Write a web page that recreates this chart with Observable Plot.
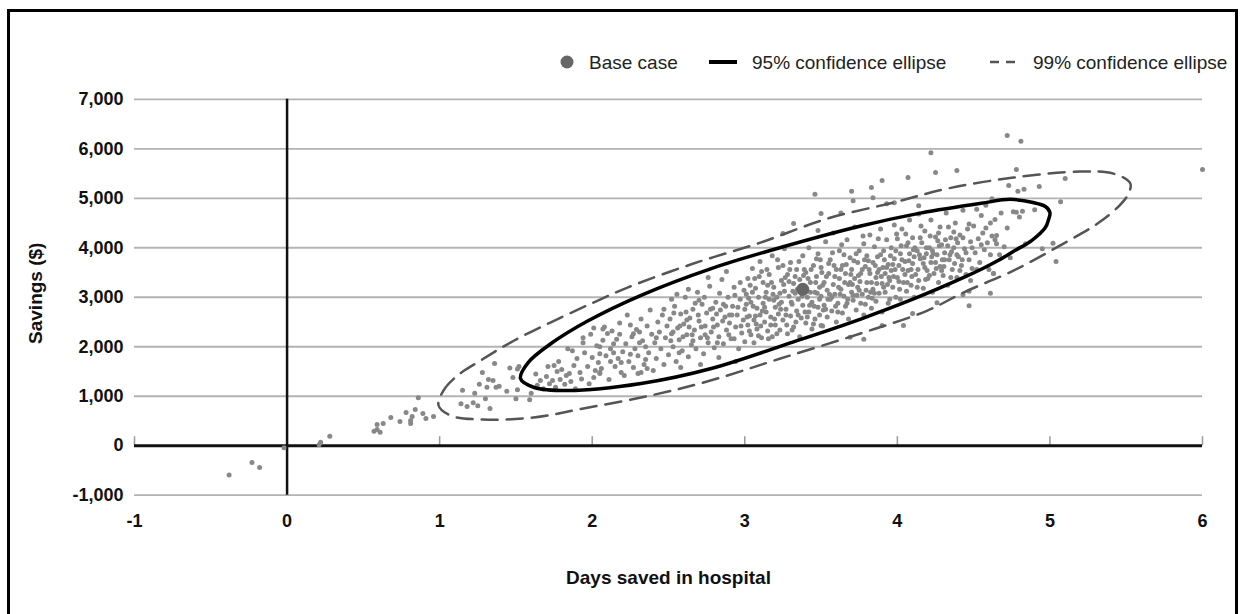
<!DOCTYPE html>
<html>
<head>
<meta charset="utf-8">
<script src="https://cdn.jsdelivr.net/npm/d3@7"></script>
<script src="https://cdn.jsdelivr.net/npm/@observablehq/plot@0.6"></script>
<style>
  body { margin: 0; background: #fff; font-family: "Liberation Sans", Arial, sans-serif; }
  #frame { position: absolute; left: 7px; top: 9px; width: 1231px; height: 640px; border: 3px solid #000; box-sizing: border-box; }
  #legend { position: absolute; left: 0; top: 0; width: 1245px; height: 80px; font-size: 19px; color: #222; }
  #legend .t { position: absolute; top: 62px; transform: translateY(-50%); white-space: nowrap; line-height: 1; }
  #legend svg { position: absolute; left: 0; top: 0; }
  #chart { position: absolute; left: 0; top: 80px; }
</style>
</head>
<body>
<div id="frame"></div>
<div id="legend">
  <svg width="1245" height="80">
    <circle cx="567" cy="62" r="6.5" fill="#666"></circle>
    <line x1="709" x2="737" y1="62" y2="62" stroke="#000" stroke-width="4"></line>
    <line x1="990" x2="1020" y1="62" y2="62" stroke="#555" stroke-width="2.5" stroke-dasharray="9,7"></line>
  </svg>
  <span class="t" style="left:589px">Base case</span>
  <span class="t" style="left:752px">95% confidence ellipse</span>
  <span class="t" style="left:1033px">99% confidence ellipse</span>
</div>
<div id="chart"></div>
<script>
// ---- axis ticks ----
const xTickValues = [-1, 0, 1, 2, 3, 4, 5, 6];
const yTickValues = [-1000, 0, 1000, 2000, 3000, 4000, 5000, 6000, 7000];
const xTitle = "Days saved in hospital";
const yTitle = "Savings ($)";

// ---- base case ----
const baseCase = [[3.38, 3160]];

// ---- simulated points (days saved, savings $) ----
const tailPoints = [
  [-0.38,-590],[-0.23,-340],[-0.18,-440],[-0.02,-40],[0.21,20],[0.22,70],[0.28,190],
  [0.57,290],[0.59,430],[0.59,330],[0.61,270],[0.63,450],[0.68,570],[0.74,490],[0.78,670],
  [0.81,510],[0.81,450],[0.82,590],[0.84,730],[0.86,970],[0.89,650],[0.91,550],[0.96,590]
];
const lowerPoints = [
  [1.14,850],[1.15,1120],[1.18,790],[1.22,870],[1.23,1060],[1.25,810],[1.26,1240],[1.28,1480],
  [1.30,950],[1.31,1180],[1.32,1340],[1.33,750],[1.35,1320],[1.36,1660],[1.37,1180],[1.39,1200],
  [1.44,1100],[1.46,1570],[1.48,1380],[1.50,950],[1.51,1130],[1.51,1550],[1.52,1600],[1.59,930],
  [1.60,1060],[1.63,1450],[1.66,1320],[1.71,1600],[1.74,1320],[1.75,1620],[1.77,1500],[1.79,1340],
  [1.85,1460],[1.87,1920],[1.94,2180],[1.94,2080],[2.00,1780],[2.02,1520],[2.05,1460],[2.05,1860],
  [2.08,2400],[2.10,2270],[2.14,1880],[2.19,1480],[2.25,2440],[2.27,2260],[2.31,2080],[2.35,1740],
  [2.32,1480],[2.19,1680],[2.14,2060],[2.01,2380],[2.07,2360],[2.30,1460],[2.05,1480],
  [1.64,1220],[1.68,1150],[1.70,1400],[1.72,1250],[1.76,1180],[1.78,1700],[1.80,1540],[1.82,1240],
  [1.83,1420],[1.84,1960],[1.86,1300],[1.88,1620],[1.89,1150],[1.90,1760],[1.92,1480],[1.93,1350],
  [1.95,1880],[1.97,1600],[1.98,1250],[1.99,2250]
];
const middlePoints = [
  [2.01,1380],[2.03,2020],[2.04,1680],[2.06,1560],[2.07,2130],[2.09,1820],[2.11,1340],[2.12,1960],
  [2.13,2320],[2.15,1600],[2.16,2150],[2.17,1760],[2.18,2480],[2.20,1900],[2.21,1420],[2.22,2060],
  [2.23,2640],[2.24,1700],[2.26,2200],[2.27,1580],[2.28,1960],[2.29,2350],[2.30,1820],[2.32,2560],
  [2.33,2120],[2.34,1640],[2.35,2000],[2.36,2420],[2.37,1880],[2.38,2740],[2.39,2250],[2.40,1520],
  [2.41,2080],[2.42,1760],[2.43,2500],[2.44,2300],[2.45,1960],[2.46,2640],[2.47,1640],[2.48,2180],
  [2.49,2420],
  [2.50,1840],[2.51,2560],[2.52,2260],[2.53,2000],[2.54,2820],[2.55,1700],[2.56,2380],[2.57,2140],
  [2.58,2660],[2.59,1920],[2.60,2460],[2.61,3000],[2.62,2240],[2.63,1800],[2.64,2580],[2.65,2040],
  [2.66,2760],[2.67,2340],[2.68,1960],[2.69,3100],[2.70,2520],[2.71,2180],[2.72,2860],[2.73,1860],
  [2.74,2420],[2.75,2680],[2.76,2080],[2.77,3220],[2.78,2300],[2.79,2560],[2.80,1980],[2.81,2900],
  [2.82,2440],[2.83,2200],[2.84,2740],[2.85,3360],[2.86,2060],[2.87,2600],[2.88,2340],[2.89,3000],
  [2.90,2480],[2.91,2160],[2.92,2820],[2.93,3200],[2.94,2400],[2.95,2640],[2.96,1960],[2.97,2960],
  [2.98,2280],[2.99,2540],[2.52,2960],[2.58,1580],[2.63,3160],[2.71,1640],[2.76,3400],[2.83,1780],
  [2.88,3520],[2.94,1700],
  [2.515,2120],[2.535,2680],[2.555,3060],[2.575,2420],[2.595,2200],[2.615,2700],[2.635,2400],
  [2.655,2240],[2.675,2880],[2.695,2640],[2.715,2400],[2.735,3000],[2.755,2180],[2.775,2760],
  [2.795,2400],[2.815,2660],[2.835,3080],[2.855,2520],[2.875,2820],[2.895,2240],[2.915,2640],
  [2.935,3040],[2.955,2800],[2.975,2420],[2.995,3140]
];
const centerPoints = [
  [3.00,2760],[3.00,2100],[3.01,3060],[3.02,2440],[3.02,3380],[3.03,2620],[3.04,2240],[3.04,2900],
  [3.05,3580],[3.06,2540],[3.06,2080],[3.07,3180],[3.08,2780],[3.08,2360],[3.09,3000],[3.10,2640],
  [3.10,3720],[3.11,2180],[3.12,2880],[3.12,3300],[3.13,2500],[3.14,3100],[3.14,2700],[3.15,2320],
  [3.16,3460],[3.16,2960],[3.17,2600],[3.18,3840],[3.18,2200],[3.19,3200],[3.20,2800],[3.20,2440],
  [3.21,3000],[3.22,3600],[3.22,2660],[3.23,2340],[3.24,3340],[3.24,2900],[3.25,2540],[3.26,3120],
  [3.26,3980],[3.27,2760],[3.28,2260],[3.28,3460],[3.29,3020],[3.30,2620],[3.30,3700],[3.31,2860],
  [3.32,3280],[3.32,2400],[3.33,3080],[3.34,2720],[3.34,3560],[3.35,2960],[3.36,2200],[3.36,3360],
  [3.37,2580],[3.38,3840],[3.38,2840],[3.39,3180],[3.40,2480],[3.40,3500],[3.41,3000],[3.42,2700],
  [3.42,4000],[3.43,3300],[3.44,2360],[3.44,2900],[3.45,3640],[3.46,3100],[3.46,2560],[3.47,3420],
  [3.48,2800],[3.48,3880],[3.49,3200],[3.49,2640],
  [3.50,3020],[3.50,3600],[3.51,2420],[3.52,3300],[3.52,2840],[3.53,4120],[3.54,3140],[3.54,2600],
  [3.55,3480],[3.56,2960],[3.56,3760],[3.57,2720],[3.58,3260],[3.58,4300],[3.59,3060],[3.60,2500],
  [3.60,3560],[3.61,2880],[3.62,3380],[3.62,3940],[3.63,3160],[3.64,2680],[3.64,3640],[3.65,3020],
  [3.66,3480],[3.66,2820],[3.67,4160],[3.68,3260],[3.68,2560],[3.69,3800],[3.70,3100],[3.70,3560],
  [3.71,2940],[3.72,3380],[3.72,4420],[3.73,2740],[3.74,3700],[3.74,3200],[3.75,3940],[3.76,2880],
  [3.76,3480],[3.77,3060],[3.78,4080],[3.78,2640],[3.79,3620],[3.80,3300],[3.80,3840],[3.81,3000],
  [3.82,4260],[3.82,3480],[3.83,2780],[3.84,3700],[3.84,3160],[3.85,4020],[3.86,3400],[3.86,2920],
  [3.87,3820],[3.88,3560],[3.88,3080],[3.89,4380],[3.90,3280],[3.90,2700],[3.91,3940],[3.92,3480],
  [3.92,3100],[3.93,4160],[3.94,3660],[3.94,2880],[3.95,3340],[3.96,4000],[3.96,3540],[3.97,3200],
  [3.98,4460],[3.98,3780],[3.99,3000],
  [3.015,2600],[3.035,3240],[3.055,2820],[3.075,2460],[3.095,3420],[3.115,2720],[3.135,3000],
  [3.155,2160],[3.175,3300],[3.195,2560],[3.215,3760],[3.235,2760],[3.255,3260],[3.275,2440],
  [3.295,3560],[3.315,3120],[3.335,2500],[3.355,3720],[3.375,3020],[3.395,2700],[3.415,3380],
  [3.435,3560],[3.455,2820],[3.475,3080],[3.495,3760],[3.515,2740],[3.535,3420],[3.555,3060],
  [3.575,3900],[3.595,2820],[3.615,3200],[3.635,4060],[3.655,3300],[3.675,2960],[3.695,3460],
  [3.715,3740],[3.735,3040],[3.755,3320],[3.775,4240],[3.795,3140],[3.815,3560],[3.835,2980],
  [3.855,3640],[3.875,4180],[3.895,3420],[3.915,3760],[3.935,3260],[3.955,3840],[3.975,3420],
  [3.995,4280]
];
const densePoints = [
  [2.05,2000],[2.12,1700],[2.18,2250],[2.25,1850],[2.31,2300],[2.36,1560],[2.42,2180],[2.47,2760],
  [2.53,2300],[2.57,1880],[2.62,2540],[2.66,2120],[2.70,2940],[2.74,2240],[2.79,2780],[2.82,2080],
  [2.86,2860],[2.90,2640],[2.93,2160],[2.97,3300],
  [3.01,2860],[3.03,2320],[3.05,3100],[3.07,2620],[3.09,2220],[3.11,3520],[3.13,2800],[3.15,3240],
  [3.17,2440],[3.19,2940],[3.21,2260],[3.23,3080],[3.25,3640],[3.27,2640],[3.29,3320],[3.31,2340],
  [3.33,3420],[3.35,2640],[3.37,3200],[3.39,3560],[3.41,2600],[3.43,3100],[3.45,2460],[3.47,3780],
  [3.49,2960],[3.51,3240],[3.53,2760],[3.55,3680],[3.57,3000],[3.59,3420],[3.61,2700],[3.63,3560],
  [3.65,3860],[3.67,2880],[3.69,3300],[3.71,3040],[3.73,3880],[3.75,3140],[3.77,3560],[3.79,2860],
  [3.81,3740],[3.83,3300],[3.85,3080],[3.87,3500],[3.89,3860],[3.91,3200],[3.93,3600],[3.95,2960],
  [3.97,3660],[3.99,3940],[4.01,3320],[4.03,3760],[4.05,3460],[4.07,4100],[4.09,3560],[4.11,3820],
  [4.13,3200],[4.15,4200],[4.17,3680],[4.19,4000],[4.21,3440],[4.23,3940],[4.25,3700],[4.27,4300],
  [4.29,3540],[4.31,3760],[4.33,4040],[4.35,3400],[4.37,4320],[4.39,3860],[4.41,3540],[4.43,4200],
  [4.45,3900],[4.47,4480],[4.49,4000],[4.52,3560],[4.55,4060],[4.58,4400],[4.61,3860],[4.64,4160],
  [3.025,2980],[3.065,3380],[3.105,2420],[3.145,3560],[3.185,3060],[3.225,2860],[3.265,3400],[3.305,2900],
  [3.345,3160],[3.385,3440],[3.425,2840],[3.465,3300],[3.505,3500],[3.545,2960],[3.585,3640],[3.625,3060],
  [3.665,3660],[3.705,3260],[3.745,3440],[3.785,3760],[3.825,3100],[3.865,3280],[3.905,3600],[3.945,3400],
  [3.985,3560],[4.025,4040],[4.065,3300],[4.105,3960],[4.145,3860],[4.185,3360],[4.225,3820],[4.265,4140],
  [4.305,3620],[4.345,3860],[4.385,4180],[4.425,3760]
];
const upperPoints = [
  [4.00,3400],[4.00,4180],[4.01,3640],[4.02,2960],[4.02,3880],[4.03,4380],[4.04,3300],[4.05,3720],
  [4.06,4040],[4.06,3120],[4.07,3540],[4.08,4560],[4.08,3880],[4.09,3240],[4.10,3680],[4.10,4200],
  [4.11,3000],[4.12,3460],[4.13,3940],[4.14,4680],[4.14,3340],[4.15,3780],[4.16,4100],[4.17,3180],
  [4.18,3600],[4.18,4340],[4.19,3880],[4.20,3380],[4.21,4000],[4.22,4560],[4.22,3700],[4.23,3100],
  [4.24,3480],[4.25,4220],[4.26,3860],[4.27,3300],[4.28,4420],[4.28,3620],[4.29,4060],[4.30,3440],
  [4.31,3900],[4.32,4700],[4.33,3240],[4.34,3760],[4.35,4200],[4.36,3560],[4.37,4000],[4.38,4500],
  [4.39,3400],[4.40,3820],[4.41,4260],[4.42,3640],[4.43,4760],[4.44,3980],[4.45,3460],[4.46,4380],
  [4.47,3760],[4.48,4120],[4.49,3580],
  [4.015,3160],[4.035,3560],[4.055,4280],[4.075,3740],[4.095,3420],[4.115,4000],[4.135,3560],
  [4.155,4440],[4.175,3800],[4.195,3540],[4.215,4240],[4.235,3880],[4.255,3580],[4.275,4040],
  [4.295,3760],[4.315,4160],[4.335,4420],[4.355,3920],[4.375,3680],[4.395,4100],
  [4.50,4440],[4.51,3900],[4.52,4780],[4.53,4180],[4.54,3700],[4.55,4650],[4.56,4300],[4.57,3960],
  [4.58,4860],[4.59,4100],[4.60,3560],[4.61,4500],[4.62,4240],[4.63,3480],[4.64,4570],[4.65,4250],
  [4.65,4080],[4.67,3860],[4.68,4700],[4.70,4020],[4.72,4400],[4.74,3800],[4.76,4730],[4.78,4720],
  [4.80,4620],[4.82,4740],[4.84,4080],[4.90,4770],[4.95,3980]
];
const outlierPoints = [
  [4.72,6270],[4.81,6150],[4.78,5580],[5.10,5400],[6.00,5580],[4.73,5260],[4.79,5140],[4.83,5180],
  [4.93,5240],[5.07,4930],[4.62,4990],[5.02,4090],[5.04,3720],[4.61,3080],[4.63,3480],[4.48,3340],
  [4.47,3120],[4.47,2830],[4.22,5920],[4.25,5520],[4.39,5560],[4.07,5420],[3.90,5360],[3.46,5080],
  [3.70,5140],[3.83,5220],[3.71,4950],[3.84,5010],[3.93,4890],[3.98,4910],[4.14,4850],[3.50,4690],
  [3.63,4700],[3.32,4490],[3.25,4290],[3.48,4350],[3.78,2150],[3.69,2190],[3.50,2430],
  [3.90,2430],[4.04,2430],[4.43,3050],[4.10,2670],[4.26,2890]
];

// ---- confidence ellipses, outline points ----
const ellipse95 = [
  [1.53,1358],[1.58,1680],[1.73,2065],[1.97,2520],[2.32,3040],[2.78,3580],[3.24,4010],[3.76,4440],
  [4.15,4700],[4.55,4900],[4.74,4978],[4.89,4913],[4.97,4833],[5.00,4711],[4.99,4560],[4.97,4408],
  [4.88,4145],[4.77,3943],[4.66,3741],[4.56,3580],[4.45,3420],[4.11,2970],[3.76,2560],[3.32,2100],
  [2.78,1560],[2.32,1257],[1.84,1115],[1.62,1176]
];
const ellipse99 = [
  [0.993,812],[1.025,1115],[1.117,1418],[1.268,1721],[1.464,2085],[1.726,2489],[2.008,2893],
  [2.231,3196],[2.664,3681],[3.103,4105],[3.542,4590],[3.974,4913],[4.328,5196],[4.761,5418],
  [5.200,5540],[5.416,5499],[5.527,5297],[5.508,5055],[5.449,4832],[5.312,4489],[5.089,4085],
  [4.761,3539],[4.433,3095],[4.197,2731],[3.758,2267],[3.234,1762],[2.775,1317],[2.382,1014],
  [1.943,752],[1.616,570],[1.288,529],[1.071,610]
];

const allPoints = [...tailPoints, ...lowerPoints, ...middlePoints, ...centerPoints, ...densePoints, ...upperPoints, ...outlierPoints];
const fmt = d => d.toLocaleString("en-US");
const font = '"Liberation Sans", Arial, sans-serif';

const plot = Plot.plot({
  width: 1245,
  height: 530,
  marginLeft: 134,
  marginRight: 43,
  marginTop: 18.8,
  marginBottom: 115.3,
  x: { domain: [-1, 6] },
  y: { domain: [-1000, 7000] },
  style: { fontFamily: font, fontSize: "18px", fontWeight: "bold", color: "#111", background: "transparent" },
  marks: [
    Plot.ruleY(yTickValues.filter(d => d !== 0), { y: d => d, stroke: "#b3b3b3", strokeWidth: 1.8 }),
    Plot.axisY(yTickValues, { anchor: "left", tickSize: 0, tickPadding: 11, tickFormat: fmt, label: null }),
    Plot.axisX(xTickValues, { anchor: "bottom", tickSize: 0, tickPadding: 19, tickFormat: fmt, label: null }),
    Plot.axisX(xTickValues, { anchor: "bottom", tickSize: 9, tickFormat: () => "", label: null, dy: -58.5, stroke: "#999", strokeWidth: 1.5 }),
    Plot.ruleY([0], { stroke: "#111", strokeWidth: 3 }),
    Plot.ruleX([0], { stroke: "#111", strokeWidth: 2.5 }),
    Plot.dot(allPoints, { x: d => d[0], y: d => d[1], r: 2.5, fill: "#888", stroke: null }),
    Plot.line(ellipse99, { x: d => d[0], y: d => d[1], curve: "catmull-rom-closed", stroke: "#555", strokeWidth: 2.5, strokeDasharray: "16,9" }),
    Plot.line(ellipse95, { x: d => d[0], y: d => d[1], curve: "catmull-rom-closed", stroke: "#000", strokeWidth: 3.5 }),
    Plot.dot(baseCase, { x: d => d[0], y: d => d[1], r: 6.5, fill: "#666", stroke: null }),
    Plot.text([xTitle], { text: d => d, frameAnchor: "bottom", textAnchor: "middle", lineAnchor: "middle", dy: 82.3, fontSize: 19, fontWeight: "bold", fill: "#111" }),
    Plot.text([yTitle], { text: d => d, frameAnchor: "left", textAnchor: "middle", lineAnchor: "middle", dx: -99, dy: -4, rotate: -90, fontSize: 19, fontWeight: "bold", fill: "#111" })
  ]
});
document.getElementById("chart").appendChild(plot);
</script>
</body>
</html>
